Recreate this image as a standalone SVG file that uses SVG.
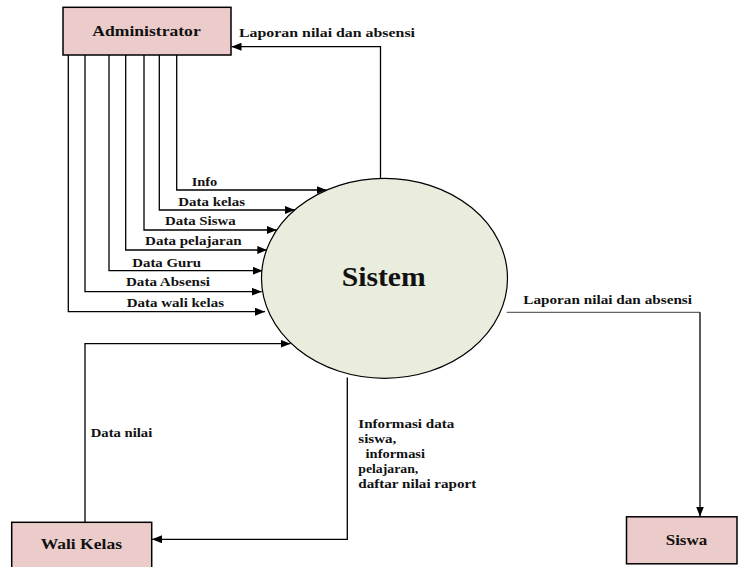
<svg xmlns="http://www.w3.org/2000/svg" width="738" height="567" viewBox="0 0 738 567">
<defs>
<style>
.box{fill:#ecccca;stroke:#000;stroke-width:1.5}
.proc{fill:#eaeddd;stroke:#000;stroke-width:1.2}
.ln{fill:none;stroke:#000;stroke-width:1.3}
.t{font-family:'Liberation Serif','DejaVu Serif',serif;font-weight:bold;fill:#111}
.lbl{font-size:13px}
.nm{font-size:15px}
</style>
<marker id="ah" viewBox="0 0 10 8" refX="10" refY="4" markerWidth="10" markerHeight="8" markerUnits="userSpaceOnUse" orient="auto">
<path d="M0,0 L10,4 L0,8 Z" fill="#000"/>
</marker>
</defs>
<rect width="738" height="567" fill="#fff"/>
<g id="connectors">
<path class="ln" d="M176.7,55 V190 H326.5" marker-end="url(#ah)"/>
<path class="ln" d="M159.3,55 V210 H295" marker-end="url(#ah)"/>
<path class="ln" d="M144,55 V230 H276.7" marker-end="url(#ah)"/>
<path class="ln" d="M125.7,55 V250 H267.3" marker-end="url(#ah)"/>
<path class="ln" d="M109,55 V270.7 H262.7" marker-end="url(#ah)"/>
<path class="ln" d="M85,55 V291.7 H261.7" marker-end="url(#ah)"/>
<path class="ln" d="M68.3,55 V311.7 H265" marker-end="url(#ah)"/>
<path class="ln" d="M380.5,178.5 V46.7 H231.5" marker-end="url(#ah)"/>
<path class="ln" d="M506.7,312.3 H700" style="stroke:#666"/>
<path class="ln" d="M700,312.3 V516.5" marker-end="url(#ah)"/>
<path class="ln" d="M85,522.3 V343.7 H290.5" marker-end="url(#ah)"/>
<path class="ln" d="M347.3,377.5 V539.3 H152" marker-end="url(#ah)"/>
<text class="t lbl" font-family="Liberation Serif, DejaVu Serif, serif" x="191.7" y="185.7" textLength="25.6" lengthAdjust="spacingAndGlyphs">Info</text>
<text class="t lbl" x="178.3" y="205.7" textLength="66.7" lengthAdjust="spacingAndGlyphs">Data kelas</text>
<text class="t lbl" x="165" y="225.3" textLength="70.7" lengthAdjust="spacingAndGlyphs">Data Siswa</text>
<text class="t lbl" x="145" y="245" textLength="96.7" lengthAdjust="spacingAndGlyphs">Data pelajaran</text>
<text class="t lbl" x="132.3" y="266.7" textLength="68.7" lengthAdjust="spacingAndGlyphs">Data Guru</text>
<text class="t lbl" x="126" y="286" textLength="84" lengthAdjust="spacingAndGlyphs">Data Absensi</text>
<text class="t lbl" x="126.7" y="306.7" textLength="97.3" lengthAdjust="spacingAndGlyphs">Data wali kelas</text>
<text class="t lbl" x="239" y="36.7" textLength="176" lengthAdjust="spacingAndGlyphs">Laporan nilai dan absensi</text>
<text class="t lbl" x="523.3" y="304" textLength="168.7" lengthAdjust="spacingAndGlyphs">Laporan nilai dan absensi</text>
<text class="t lbl" x="90.7" y="437.3" textLength="61.6" lengthAdjust="spacingAndGlyphs">Data nilai</text>
<text class="t lbl" x="358.3" y="427.7" textLength="96" lengthAdjust="spacingAndGlyphs">Informasi data</text>
<text class="t lbl" x="358.3" y="442.7" textLength="38" lengthAdjust="spacingAndGlyphs">siswa,</text>
<text class="t lbl" x="362" y="457.7" textLength="63" lengthAdjust="spacingAndGlyphs" xml:space="preserve"> informasi</text>
<text class="t lbl" x="358.3" y="473.3" textLength="60" lengthAdjust="spacingAndGlyphs">pelajaran,</text>
<text class="t lbl" x="358.3" y="488.3" textLength="118" lengthAdjust="spacingAndGlyphs">daftar nilai raport</text>
</g>
<g id="administrator">
<rect class="box" x="63" y="7.3" width="168" height="47.7"/>
<text class="t nm" x="92.3" y="35.7" textLength="108.4" lengthAdjust="spacingAndGlyphs">Administrator</text>
</g>
<g id="sistem">
<ellipse class="proc" cx="384.5" cy="278.3" rx="123" ry="100"/>
<text class="t" x="341.7" y="286" font-size="28" textLength="84" lengthAdjust="spacingAndGlyphs">Sistem</text>
</g>
<g id="wali-kelas">
<rect class="box" x="11.7" y="522.3" width="140" height="50"/>
<text class="t nm" x="40.7" y="549.3" textLength="81.3" lengthAdjust="spacingAndGlyphs">Wali Kelas</text>
</g>
<g id="siswa">
<rect class="box" x="626.5" y="516.8" width="110.5" height="47"/>
<text class="t nm" x="665.7" y="545" textLength="41.6" lengthAdjust="spacingAndGlyphs">Siswa</text>
</g>
</svg>
